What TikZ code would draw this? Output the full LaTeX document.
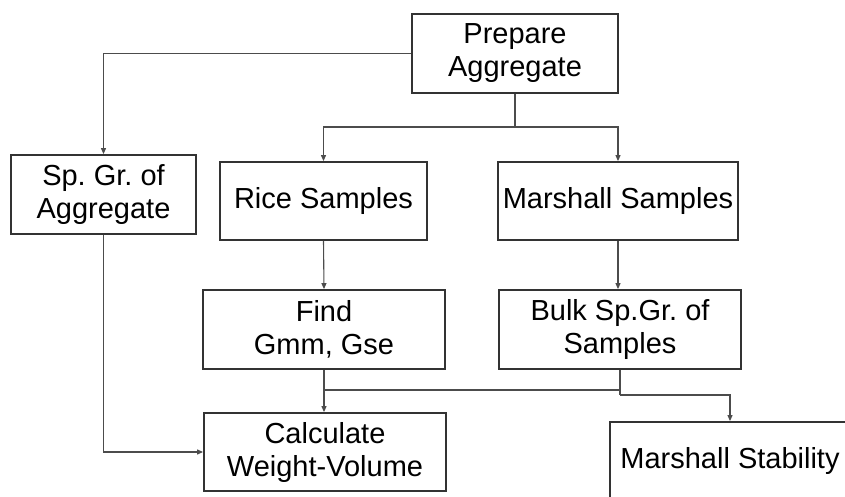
\documentclass[tikz,border=0pt]{standalone}
\usepackage{fontspec}
\setmainfont{Liberation Sans}
\usetikzlibrary{arrows.meta}
\frenchspacing
\begin{document}
\begin{tikzpicture}[x=1pt,y=-1pt,
  box/.style={draw=black!80,line width=1.8pt,fill=white,inner sep=0pt,align=center,
    font=\fontsize{29}{33}\selectfont,text=black},
  conn/.style={draw=black!70,line width=1.1pt},
  arr/.style={conn,-{Triangle[length=6pt,width=5pt]}}]
\useasboundingbox (0,0) rectangle (845,497);
\node[box,minimum width=206pt,minimum height=79pt] (prep) at (515,53.5) {Prepare\\Aggregate};
\node[box,minimum width=185pt,minimum height=79pt] (spgr) at (103.5,194.5) {Sp. Gr. of\\Aggregate};
\node[box,minimum width=207pt,minimum height=78pt] (rice) at (323.5,201) {Rice Samples};
\node[box,minimum width=240pt,minimum height=78pt] (mars) at (618,201) {Marshall Samples};
\node[box,minimum width=242pt,minimum height=79pt] (find) at (324,329.5) {Find\\Gmm, Gse};
\node[box,minimum width=242pt,minimum height=79pt] (bulk) at (620,329.5) {Bulk Sp.Gr. of\\Samples};
\node[box,minimum width=242pt,minimum height=78pt] (calc) at (325,452) {Calculate\\Weight-Volume};
\node[box,minimum width=240pt,minimum height=78pt] (stab) at (730,461) {Marshall Stability};
\coordinate (j1) at (515,127);
\coordinate (j2) at (620,390);
\coordinate (j3) at (620,395);
\draw[arr] (prep.west) -| (spgr.north);
\draw[conn] (prep.south) -- (j1);
\draw[arr] (j1) -| (rice.north);
\draw[arr] (j1) -| (mars.north);
\draw[arr] (rice.south) -- (find.north);
\draw[arr] (mars.south) -- (mars.south |- bulk.north);
\draw[arr] (find.south) -- (find.south |- calc.north);
\draw[conn] (bulk.south) -- (j3);
\draw[conn] (j2) -- (j2 -| find.south);
\draw[arr] (j3) -| (stab.north);
\draw[arr] (spgr.south) |- (calc.west);
\end{tikzpicture}
\end{document}
